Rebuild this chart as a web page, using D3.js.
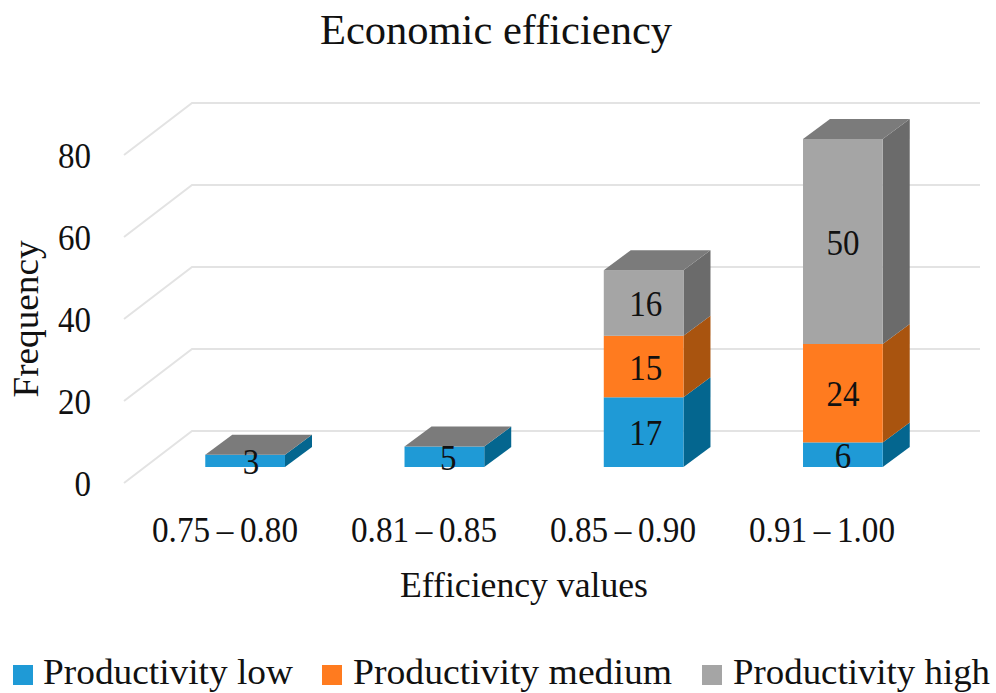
<!DOCTYPE html>
<html>
<head>
<meta charset="utf-8">
<script src="https://cdn.jsdelivr.net/npm/d3@7"></script>
<style>
  html, body { margin: 0; padding: 0; background: #fff; }
  text { font-family: "Liberation Serif", serif; fill: #111; }
</style>
</head>
<body>
<script>
var categories = ["0.75\u2009\u2013\u20090.80", "0.81\u2009\u2013\u20090.85", "0.85\u2009\u2013\u20090.90", "0.91\u2009\u2013\u20091.00"];
var seriesNames = ["Productivity low", "Productivity medium", "Productivity high"];
var lowValues = [3, 5, 17, 6];
var mediumValues = [0, 0, 15, 24];
var highValues = [0, 0, 16, 50];
var yTicks = [0, 20, 40, 60, 80];

var width = 996;
var height = 693;

// oblique depth of the 3D box and of the floor
var depthX = 27;
var depthY = 20;

var frontColors = ["#1f9ad6", "#ff7b1f", "#a5a5a5"];
var sideColors = ["#04668f", "#a9540f", "#6b6b6b"];
var topColor = "#7b7b7b";
var gridColor = "#e3e3e3";

var svg = d3.select("body").append("svg")
  .attr("width", width)
  .attr("height", height)
  .style("display", "block");

var xScale = d3.scaleBand().domain(d3.range(categories.length)).range([145.5, 942.5]).paddingInner(0.6).paddingOuter(0.3);
var yScale = d3.scaleLinear().domain([0, 80]).range([467, 139]);
// labels drift a little from the bar centres in the original
var labelX = d3.scaleLinear().domain([0, 3]).range([251, 843]);
var tickX = d3.scaleLinear().domain([0, 3]).range([225, 822]);

// digits of the original face are narrower than they are tall here
function digitWidth(v) { return String(v).length * 16.5; }

// back wall grid and the diagonal floor lines
var grid = svg.append("g");
yTicks.forEach(function(t) {
  var back = yScale(t) - 36;
  grid.append("path")
    .attr("d", d3.line()([[124, back + 52], [192, back], [980, back]]))
    .attr("fill", "none")
    .attr("stroke", gridColor)
    .attr("stroke-width", 2);
});

var tickLabels = svg.append("g");
yTicks.forEach(function(t) {
  tickLabels.append("text")
    .attr("x", 91)
    .attr("y", yScale(t) + 29)
    .attr("text-anchor", "end")
    .attr("font-size", 36)
    .attr("textLength", digitWidth(t))
    .attr("lengthAdjust", "spacingAndGlyphs")
    .text(t);
});

// stacked boxes
var stack = d3.stack().keys([0, 1, 2]).value(function(d, k) { return d[k]; });
var rows = categories.map(function(c, i) { return [lowValues[i], mediumValues[i], highValues[i]]; });
var layers = stack(rows);

var bars = svg.append("g");
layers.forEach(function(layer, s) {
  layer.forEach(function(d, i) {
    var x0 = xScale(i);
    var x1 = x0 + xScale.bandwidth();
    var yBottom = yScale(d[0]);
    var yTop = yScale(d[1]);
    bars.append("polygon")
      .attr("points", [[x1, yBottom], [x1 + depthX, yBottom - depthY], [x1 + depthX, yTop - depthY], [x1, yTop]].join(" "))
      .attr("fill", sideColors[s]);
    bars.append("rect")
      .attr("x", x0)
      .attr("y", yTop)
      .attr("width", xScale.bandwidth())
      .attr("height", yBottom - yTop)
      .attr("fill", frontColors[s]);
    // only the last layer gets a lid, zero height segments sit on top of the stack
    if (s == 2) {
      bars.append("polygon")
        .attr("points", [[x0, yTop], [x0 + depthX, yTop - depthY], [x1 + depthX, yTop - depthY], [x1, yTop]].join(" "))
        .attr("fill", topColor);
    }
  });
});

// data labels
layers.forEach(function(layer) {
  layer.forEach(function(d, i) {
    var v = d[1] - d[0];
    if (v == 0) return;
    svg.append("text")
      .attr("x", labelX(i))
      .attr("y", (yScale(d[0]) + yScale(d[1])) / 2 + 13)
      .attr("text-anchor", "middle")
      .attr("font-size", 36)
      .attr("textLength", digitWidth(v))
      .attr("lengthAdjust", "spacingAndGlyphs")
      .text(v);
  });
});

categories.forEach(function(c, i) {
  svg.append("text")
    .attr("x", tickX(i))
    .attr("y", 542)
    .attr("text-anchor", "middle")
    .attr("font-size", 35)
    .attr("textLength", 146)
    .attr("lengthAdjust", "spacingAndGlyphs")
    .text(c);
});

svg.append("text")
  .attr("x", 496)
  .attr("y", 44)
  .attr("text-anchor", "middle")
  .attr("font-size", 42)
  .attr("textLength", 352)
  .attr("lengthAdjust", "spacingAndGlyphs")
  .text("Economic efficiency");

svg.append("text")
  .attr("x", 524)
  .attr("y", 597)
  .attr("text-anchor", "middle")
  .attr("font-size", 35)
  .attr("textLength", 248)
  .attr("lengthAdjust", "spacingAndGlyphs")
  .text("Efficiency values");

svg.append("text")
  .attr("transform", "translate(38, 319) rotate(-90)")
  .attr("text-anchor", "middle")
  .attr("font-size", 35)
  .attr("textLength", 157)
  .attr("lengthAdjust", "spacingAndGlyphs")
  .text("Frequency");

// legend, baseline kept high enough for the descenders to fit the page
var legendSwatch = [13, 322, 702];
var legendText = [43, 353, 733];
var legendWidth = [250, 319, 257];
seriesNames.forEach(function(name, s) {
  svg.append("rect")
    .attr("x", legendSwatch[s])
    .attr("y", 665)
    .attr("width", 20)
    .attr("height", 20)
    .attr("fill", frontColors[s]);
  svg.append("text")
    .attr("x", legendText[s])
    .attr("y", 684)
    .attr("font-size", 35)
    .attr("textLength", legendWidth[s])
    .attr("lengthAdjust", "spacingAndGlyphs")
    .text(name);
});
</script>
</body>
</html>
